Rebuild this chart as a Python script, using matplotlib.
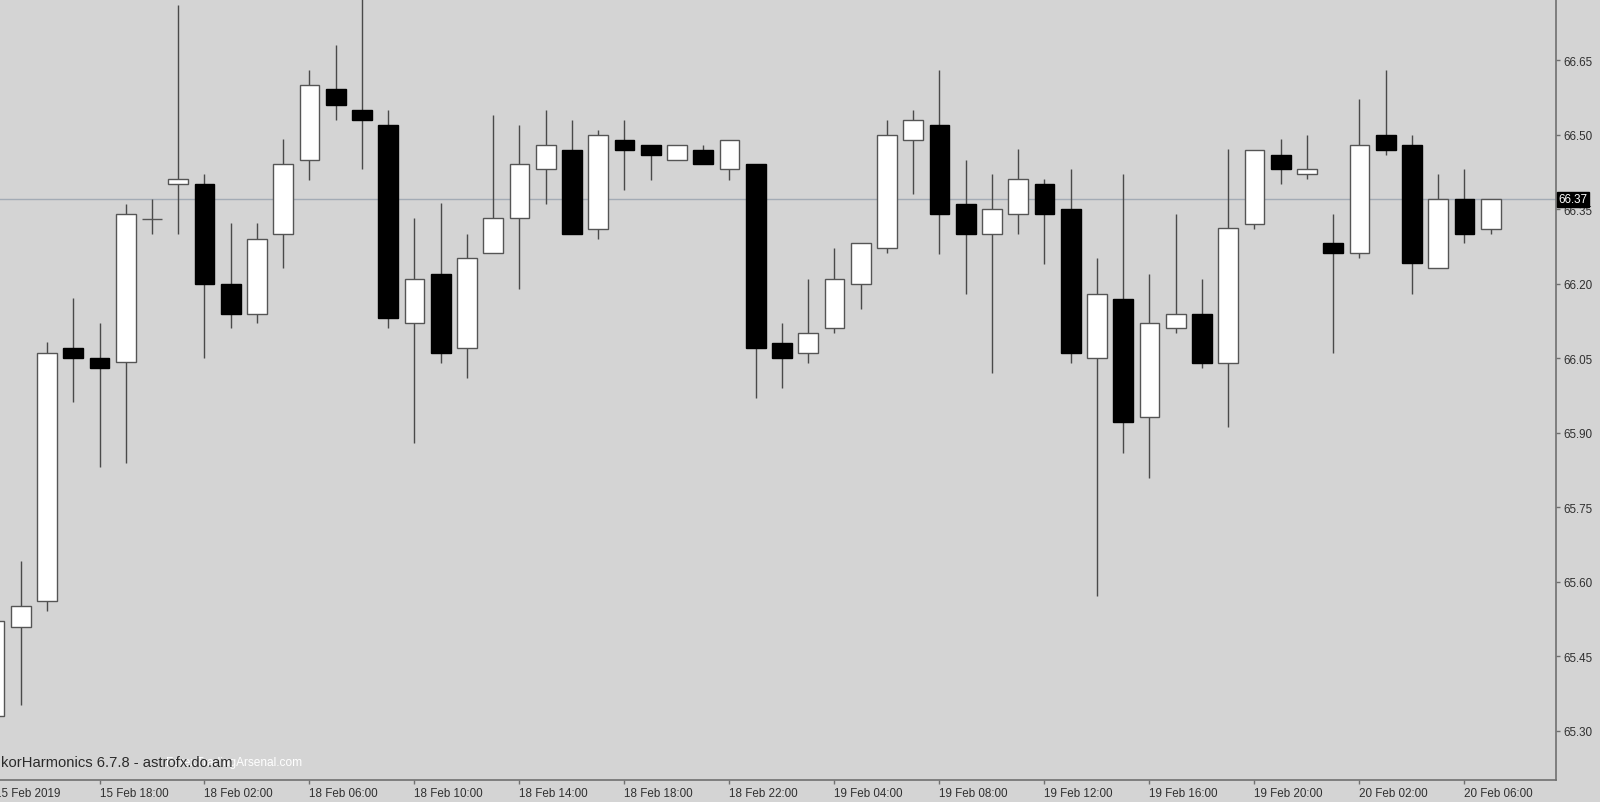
import matplotlib
matplotlib.use("Agg")
import matplotlib.pyplot as plt
import matplotlib.transforms as mtransforms

# --- DATA (hourly candles) ---
opens = [65.33, 65.509, 65.562, 66.071, 66.050, 66.042, 66.330, 66.400, 66.401, 66.199,
         66.140, 66.301, 66.450, 66.591, 66.550, 66.520, 66.121, 66.220, 66.071, 66.261,
         66.332, 66.430, 66.470, 66.311, 66.490, 66.480, 66.450, 66.470, 66.430, 66.440,
         66.081, 66.060, 66.110, 66.200, 66.271, 66.490, 66.520, 66.360, 66.300, 66.340,
         66.400, 66.350, 66.050, 66.170, 65.931, 66.110, 66.140, 66.040, 66.321, 66.460,
         66.420, 66.281, 66.261, 66.500, 66.480, 66.231, 66.371, 66.311]
highs = [65.53, 65.641, 66.082, 66.171, 66.121, 66.360, 66.371, 66.761, 66.421, 66.322,
         66.322, 66.491, 66.631, 66.681, 66.800, 66.550, 66.332, 66.362, 66.301, 66.540,
         66.520, 66.550, 66.530, 66.510, 66.530, 66.480, 66.480, 66.480, 66.490, 66.440,
         66.121, 66.210, 66.271, 66.281, 66.530, 66.550, 66.631, 66.450, 66.420, 66.471,
         66.410, 66.430, 66.252, 66.420, 66.220, 66.341, 66.210, 66.471, 66.470, 66.491,
         66.500, 66.341, 66.572, 66.631, 66.500, 66.420, 66.430, 66.371]
lows = [65.32, 65.352, 65.542, 65.962, 65.830, 65.840, 66.300, 66.300, 66.050, 66.110,
        66.120, 66.231, 66.409, 66.530, 66.430, 66.110, 65.879, 66.040, 66.010, 66.261,
        66.190, 66.360, 66.300, 66.291, 66.389, 66.409, 66.450, 66.440, 66.409, 65.970,
        65.991, 66.040, 66.100, 66.150, 66.261, 66.380, 66.260, 66.180, 66.020, 66.300,
        66.240, 66.040, 65.571, 65.859, 65.809, 66.100, 66.030, 65.911, 66.311, 66.400,
        66.410, 66.060, 66.251, 66.460, 66.180, 66.231, 66.281, 66.300]
closes = [65.521, 65.552, 66.060, 66.050, 66.030, 66.340, 66.330, 66.410, 66.199, 66.140,
          66.291, 66.441, 66.601, 66.559, 66.530, 66.130, 66.210, 66.060, 66.252, 66.332,
          66.440, 66.480, 66.300, 66.500, 66.470, 66.460, 66.480, 66.440, 66.490, 66.071,
          66.050, 66.101, 66.210, 66.281, 66.500, 66.530, 66.340, 66.300, 66.350, 66.410,
          66.340, 66.060, 66.180, 65.921, 66.120, 66.140, 66.040, 66.312, 66.470, 66.430,
          66.430, 66.261, 66.480, 66.470, 66.241, 66.371, 66.300, 66.371]

tick_index = [0, 4, 8, 12, 16, 20, 24, 28, 32, 36, 40, 44, 48, 52, 56]
tick_labels = ["15 Feb 2019", "15 Feb 18:00", "18 Feb 02:00", "18 Feb 06:00", "18 Feb 10:00",
               "18 Feb 14:00", "18 Feb 18:00", "18 Feb 22:00", "19 Feb 04:00", "19 Feb 08:00",
               "19 Feb 12:00", "19 Feb 16:00", "19 Feb 20:00", "20 Feb 02:00", "20 Feb 06:00"]
price_ticks = [65.30, 65.45, 65.60, 65.75, 65.90, 66.05, 66.20, 66.35, 66.50, 66.65]
last_price = 66.37

# --- STYLE ---
BG = "#d4d4d4"
WICK = "#4a4a4a"
TEXT = "#303030"
FS = 8.4
plt.rcParams["font.family"] = ["Liberation Sans", "DejaVu Sans"]

W, H = 1600, 803
fig = plt.figure(figsize=(W / 100, H / 100), dpi=100, facecolor=BG)
ax = fig.add_axes([0, (H - 781) / H, 1556 / W, 781 / H], facecolor=BG)

n = len(opens)
xs = list(range(n))

# wicks
ax.vlines(xs, lows, highs, color=WICK, linewidth=1.0, zorder=2)

# bodies
for i in xs:
    o, c = opens[i], closes[i]
    up = c >= o
    ax.bar(i, abs(c - o), bottom=min(o, c), width=0.76,
           color="white" if up else "black",
           edgecolor="#555555" if up else "black",
           linewidth=1.0, zorder=3)

# last price line and label
ax.axhline(last_price, color="#a3abb5", linewidth=1.0, zorder=1)
trans = mtransforms.blended_transform_factory(ax.transAxes, ax.transData)
ax.text(1.0015, last_price, f"{last_price:.2f}", transform=trans, color="white",
        fontsize=FS, va="center", ha="left", zorder=10, clip_on=False,
        bbox=dict(boxstyle="square,pad=0.15", facecolor="black", edgecolor="black"))

# watermark
ax.text(0.194, 0.0234, "ForexTradingArsenal.com", transform=ax.transAxes,
        color="white", fontsize=8.6, ha="right", va="center", zorder=4)
ax.text(0.0005, 0.0234, "korHarmonics 6.7.8 - astrofx.do.am", transform=ax.transAxes,
        color="#2a2a2a", fontsize=10.6, ha="left", va="center", zorder=5)

# axes
ax.set_xlim(0.2095, 59.486)
ax.set_ylim(65.2008, 66.7732)

ax.set_xticks(tick_index[1:])
ax.set_xticklabels(tick_labels[1:], ha="left")
# first label sits left of the view (its tick is hidden), draw it by hand
xtrans = mtransforms.blended_transform_factory(ax.transData, ax.transAxes)
ax.annotate(tick_labels[0], xy=(tick_index[0], 0), xycoords=xtrans,
            xytext=(0, -5), textcoords="offset points", ha="left", va="top",
            fontsize=FS, color=TEXT, annotation_clip=False)

ax.set_yticks(price_ticks)
ax.set_yticklabels([f"{p:.2f}" for p in price_ticks])
ax.yaxis.tick_right()

ax.tick_params(axis="x", direction="out", length=3, width=1, color="#707070",
               labelsize=FS, labelcolor=TEXT, pad=2)
ax.tick_params(axis="y", direction="out", length=3, width=1, color="#707070",
               labelsize=FS, labelcolor=TEXT, pad=2)

for side in ["top", "left"]:
    ax.spines[side].set_visible(False)
for side in ["right", "bottom"]:
    ax.spines[side].set_color("#707070")
    ax.spines[side].set_linewidth(1.2)

fig.savefig("out.png", dpi=100, facecolor=BG)
